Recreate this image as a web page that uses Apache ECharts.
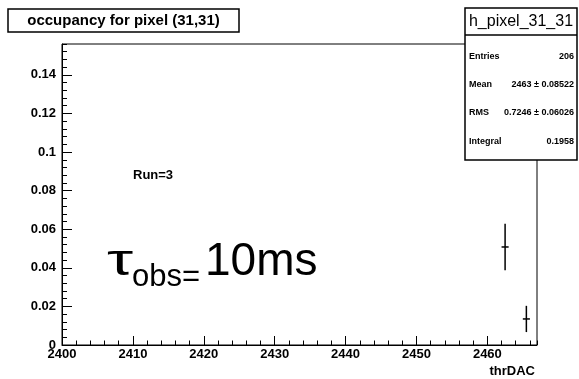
<!DOCTYPE html>
<html>
<head>
<meta charset="utf-8">
<script src="https://cdn.jsdelivr.net/npm/echarts@6/dist/echarts.min.js"></script>
<style>
html,body{margin:0;padding:0;background:#fff;}
#c{width:579px;height:379px;}
</style>
</head>
<body>
<div id="c"></div>
<script>
// ---- data ----
const binCenters = [2462.5, 2465.5];
const occupancy = [0.0508, 0.0135];
const errors = [0.0120, 0.0068];
const binWidth = 1;
const xTickValues = [2400, 2410, 2420, 2430, 2440, 2450, 2460];
const yTickValues = [0, 0.02, 0.04, 0.06, 0.08, 0.1, 0.12, 0.14];
const titleText = 'occupancy for pixel (31,31)';
const statsName = 'h_pixel_31_31';
const statsLabels = ['Entries', 'Mean', 'RMS', 'Integral'];
const statsValues = ['206', '2463 \u00b1 0.08522', '0.7246 \u00b1 0.06026', '0.1958'];
const xTitle = 'thrDAC';
const runText = 'Run=3';

const FONT = '"Liberation Sans", Arial, Helvetica, sans-serif';
const chart = echarts.init(document.getElementById('c'), null, {renderer: 'canvas'});

const data = binCenters.map((x, i) => [x, occupancy[i], errors[i]]);

const statsChildren = [
  {type: 'rect', shape: {x: 465, y: 8, width: 112, height: 152}, style: {fill: '#fff', stroke: '#000', lineWidth: 1.5}},
  {type: 'line', shape: {x1: 465, y1: 35, x2: 577, y2: 35}, style: {stroke: '#000', lineWidth: 1.5}},
  {type: 'text', x: 521, y: 22, style: {text: statsName, font: '16px ' + FONT, fill: '#000', align: 'center', verticalAlign: 'middle'}}
];
const rowY = [57, 85, 113, 142];
statsLabels.forEach((lab, i) => {
  statsChildren.push({type: 'text', x: 469, y: rowY[i], style: {text: lab, font: 'bold 9px ' + FONT, fill: '#000', align: 'left', verticalAlign: 'middle'}});
  statsChildren.push({type: 'text', x: 574, y: rowY[i], style: {text: statsValues[i], font: 'bold 9px ' + FONT, fill: '#000', align: 'right', verticalAlign: 'middle'}});
});

const option = {
  animation: false,
  backgroundColor: '#fff',
  grid: {left: 62, right: 42, top: 44, bottom: 34, show: true, borderColor: '#000', borderWidth: 1, backgroundColor: 'transparent'},
  xAxis: [
    {
      type: 'value', min: 2400, max: 2467, interval: 10, position: 'bottom',
      axisLine: {show: true, lineStyle: {color: '#000', width: 1}},
      axisTick: {show: true, inside: true, length: 9, lineStyle: {color: '#000', width: 1}},
      axisLabel: {show: true, showMaxLabel: false, color: '#000', fontFamily: FONT, fontWeight: 'bold', fontSize: 13, margin: 3,
        formatter: v => String(v)},
      splitLine: {show: false}
    },
    {
      type: 'value', min: 2400, max: 2467, interval: 2, position: 'bottom',
      axisLine: {show: false},
      axisTick: {show: true, inside: true, length: 4.5, lineStyle: {color: '#000', width: 1}},
      axisLabel: {show: false},
      splitLine: {show: false}
    }
  ],
  yAxis: [
    {
      type: 'value', min: 0, max: 0.156, interval: 0.02, position: 'left',
      axisLine: {show: true, lineStyle: {color: '#000', width: 1}},
      axisTick: {show: true, inside: true, length: 10, lineStyle: {color: '#000', width: 1}},
      axisLabel: {show: true, showMaxLabel: false, color: '#000', fontFamily: FONT, fontWeight: 'bold', fontSize: 13, margin: 6,
        formatter: v => (Math.round(v * 1000) / 1000).toString()},
      splitLine: {show: false}
    },
    {
      type: 'value', min: 0, max: 0.156, interval: 0.004, position: 'left', offset: 0,
      axisLine: {show: false},
      axisTick: {show: true, inside: true, length: 5, lineStyle: {color: '#000', width: 1}},
      axisLabel: {show: false},
      splitLine: {show: false}
    }
  ],
  series: [{
    type: 'custom',
    xAxisIndex: 0, yAxisIndex: 0,
    data: data,
    renderItem: function (params, api) {
      const x = api.value(0), y = api.value(1), e = api.value(2);
      const top = api.coord([x, y + e]);
      const bot = api.coord([x, y - e]);
      const l = api.coord([x - binWidth / 2, y]);
      const r = api.coord([x + binWidth / 2, y]);
      const st = {stroke: '#000', lineWidth: 1.5};
      return {type: 'group', children: [
        {type: 'line', shape: {x1: top[0], y1: top[1], x2: bot[0], y2: bot[1]}, style: st},
        {type: 'line', shape: {x1: l[0], y1: l[1], x2: r[0], y2: r[1]}, style: st}
      ]};
    }
  }],
  graphic: [
    {type: 'group', children: [
      {type: 'rect', shape: {x: 8, y: 9, width: 231, height: 23}, style: {fill: '#fff', stroke: '#000', lineWidth: 1.5}},
      {type: 'text', x: 123.5, y: 21, style: {text: titleText, font: 'bold 15px ' + FONT, fill: '#000', align: 'center', verticalAlign: 'middle'}}
    ]},
    {type: 'group', children: statsChildren},
    {type: 'text', x: 133, y: 175, style: {text: runText, font: 'bold 13px ' + FONT, fill: '#000', align: 'left', verticalAlign: 'middle'}},
    {type: 'text', x: 107, y: 263, scaleX: 1.5, style: {text: '\u03c4', font: '44px ' + FONT, fill: '#000', align: 'left', verticalAlign: 'middle'}},
    {type: 'text', x: 132, y: 277, style: {text: 'obs=', font: '31px ' + FONT, fill: '#000', align: 'left', verticalAlign: 'middle'}},
    {type: 'text', x: 205, y: 262, style: {text: '10ms', font: '46px ' + FONT, fill: '#000', align: 'left', verticalAlign: 'middle'}},
    {type: 'text', x: 535, y: 371, style: {text: xTitle, font: 'bold 13px ' + FONT, fill: '#000', align: 'right', verticalAlign: 'middle'}}
  ]
};
chart.setOption(option);
</script>
</body>
</html>
